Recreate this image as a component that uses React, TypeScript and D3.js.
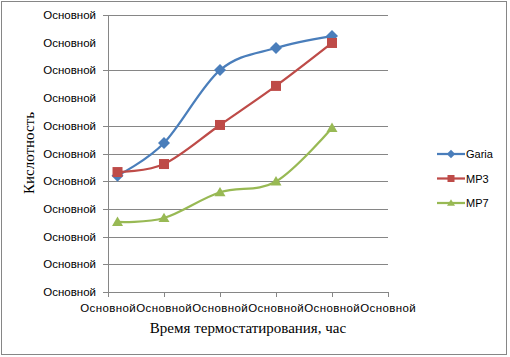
import React from "react";
import * as d3 from "d3";

const xTickValues = [0, 1, 2, 3, 4, 5];
const xTickLabels = ["Основной", "Основной", "Основной", "Основной", "Основной", "Основной"];
const yTickValues = [0, 1, 2, 3, 4, 5, 6, 7, 8, 9, 10];
const yTickLabels = ["Основной", "Основной", "Основной", "Основной", "Основной", "Основной", "Основной", "Основной", "Основной", "Основной", "Основной"];
const yGridValues = [1, 2, 3, 4, 5, 6, 8, 10];

const xValues = [0.17, 1, 2, 3, 4];
const gariaValues = [4.2, 5.38, 8.01, 8.81, 9.24];
const mp3Values = [4.33, 4.62, 6.03, 7.44, 8.99];
const mp7Values = [2.53, 2.67, 3.6, 3.99, 5.92];

const seriesNames = ["Garia", "MP3", "MP7"];
const seriesColors = ["#4A7EBB", "#BE4B48", "#98B954"];
const seriesMarkers = ["diamond", "square", "triangle"];

function Marker({ type, x, y, s, color }: { type: string; x: number; y: number; s: number; color: string }) {
  if (type === "square") {
    return <rect x={x - s / 2} y={y - s / 2} width={s} height={s} fill={color} />;
  }
  if (type === "diamond") {
    const r = s * 0.6;
    return <path d={`M${x},${y - r}L${x + r},${y}L${x},${y + r}L${x - r},${y}Z`} fill={color} />;
  }
  const h = s * 0.9;
  return <path d={`M${x},${y - h * 0.6}L${x + s / 2 + 0.5},${y + h * 0.45}L${x - s / 2 - 0.5},${y + h * 0.45}Z`} fill={color} />;
}

export default function App() {
  const W = 510;
  const H = 357;
  const x = d3.scaleLinear().domain([0, 5]).range([108, 388]);
  const y = d3.scaleLinear().domain([0, 10]).range([292, 15]);
  const line = d3
    .line<number>()
    .x((_, i) => x(xValues[i]))
    .y((d) => y(d))
    .curve(d3.curveCatmullRom.alpha(0));
  const allSeries = [gariaValues, mp3Values, mp7Values];
  const grid = "#868686";
  const sans = "'Liberation Sans', Arial, sans-serif";
  const serif = "'Liberation Serif', 'Times New Roman', serif";

  return (
    <svg width={W} height={H} style={{ position: "absolute", left: 0, top: 0 }}>
      <rect x={0} y={0} width={W} height={H} fill="#fff" />
      <rect x={1.5} y={1.5} width={505} height={353} fill="#fff" stroke={grid} strokeWidth={1} />
      {yGridValues.map((v) => (
        <g key={"g" + v}>
          <line x1={103} x2={388} y1={Math.round(y(v)) + 0.5} y2={Math.round(y(v)) + 0.5} stroke={grid} strokeWidth={1} />
        </g>
      ))}
      <line x1={108.5} x2={108.5} y1={15} y2={297} stroke={grid} />
      <line x1={103} x2={388} y1={292.5} y2={292.5} stroke={grid} />
      {xTickValues.map((v) => (
        <line key={"xt" + v} x1={Math.round(x(v)) + 0.5} x2={Math.round(x(v)) + 0.5} y1={292} y2={297} stroke={grid} />
      ))}
      {yTickValues.map((v, i) => (
        <text key={"yl" + v} x={96} y={y(v) + 4} textAnchor="end" fontFamily={sans} fontSize={11.5} fill="#000">
          {yTickLabels[i]}
        </text>
      ))}
      {xTickValues.map((v, i) => (
        <text key={"xl" + v} x={x(v)} y={312} textAnchor="middle" fontFamily={sans} fontSize={11.5} fill="#000" textLength={55.5} lengthAdjust="spacing">
          {xTickLabels[i]}
        </text>
      ))}
      <text x={248} y={333} textAnchor="middle" fontFamily={serif} fontSize={15} fill="#000">
        Время термостатирования, час
      </text>
      <text transform="translate(34,153) rotate(-90)" textAnchor="middle" fontFamily={serif} fontSize={15} fill="#000">
        Кислотность
      </text>
      {allSeries.map((vals, si) => (
        <g key={"s" + si}>
          <path d={line(vals) || ""} fill="none" stroke={seriesColors[si]} strokeWidth={2.25} />
          {vals.map((v, i) => (
            <Marker key={i} type={seriesMarkers[si]} x={x(xValues[i])} y={y(v)} s={10} color={seriesColors[si]} />
          ))}
        </g>
      ))}
      {seriesNames.map((n, si) => {
        const ly = 154 + si * 24.5;
        return (
          <g key={"l" + si}>
            <line x1={437} x2={465} y1={ly} y2={ly} stroke={seriesColors[si]} strokeWidth={2.25} />
            <Marker type={seriesMarkers[si]} x={451} y={ly} s={7} color={seriesColors[si]} />
            <text x={466} y={ly + 4} fontFamily={sans} fontSize={11} fill="#000">
              {n}
            </text>
          </g>
        );
      })}
    </svg>
  );
}
